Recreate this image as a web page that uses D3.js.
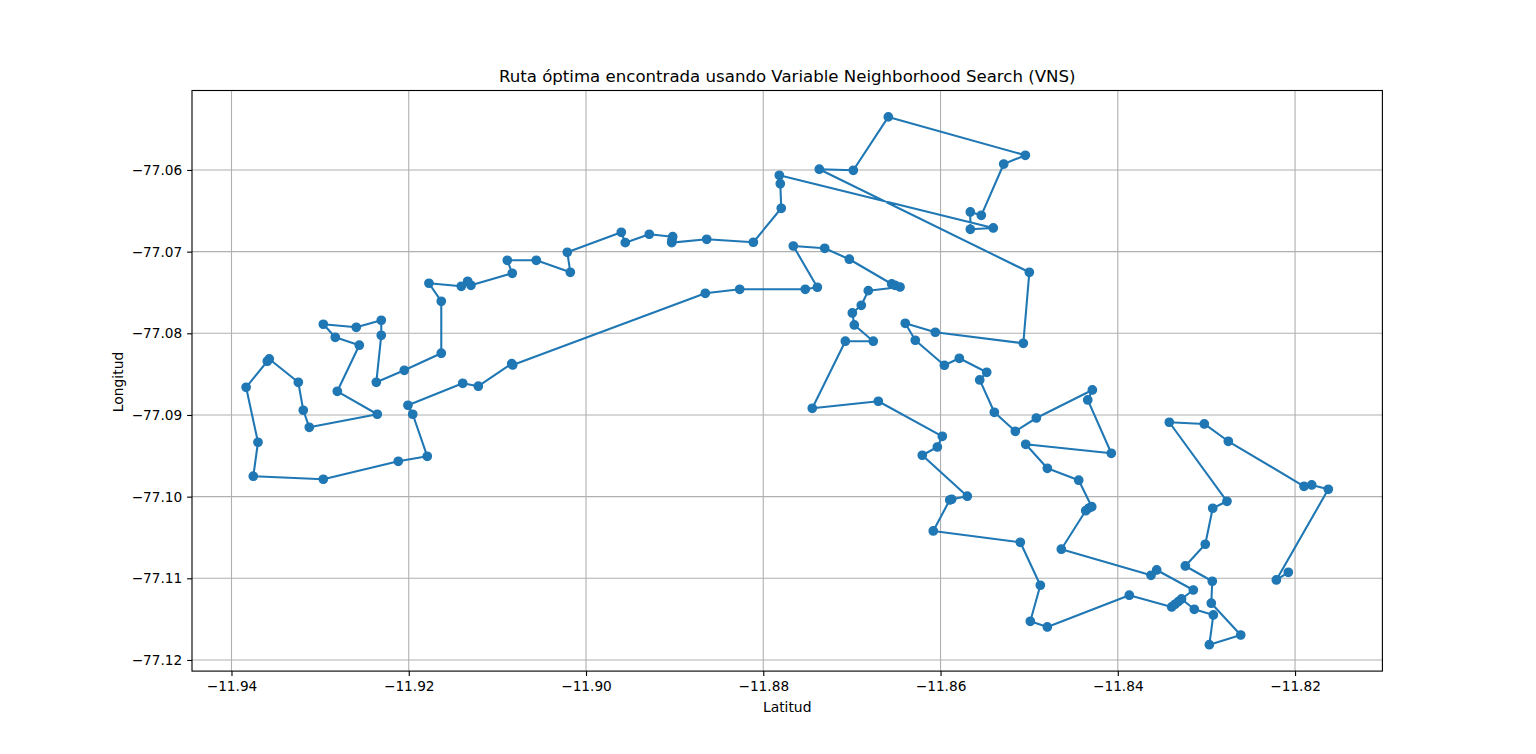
<!DOCTYPE html>
<html>
<head>
<meta charset="utf-8">
<title>Ruta VNS</title>
<script src="https://cdn.jsdelivr.net/npm/d3@7"></script>
<style>
  html, body { margin: 0; padding: 0; background: #fff; }
  svg { display: block; }
  text { font-family: "DejaVu Sans", sans-serif; fill: #000; }
</style>
</head>
<body>
<div id="vis"></div>
<script>
// order of visit along the route
var latitudes = [
  -11.82076, -11.82211, -11.81625, -11.81812, -11.81899, -11.82753, -11.83024, -11.83419,
  -11.82768, -11.82929, -11.83013, -11.83238, -11.82934, -11.82945, -11.82613, -11.82967,
  -11.82922, -11.83137, -11.83281, -11.83148, -11.83561, -11.83625, -11.84637, -11.84362,
  -11.84325, -11.84294, -11.84441, -11.84795, -11.85039, -11.84073, -11.84339, -11.84287,
  -11.84919, -11.85156, -11.85393, -11.85558, -11.85479, -11.85788, -11.85957, -11.86285,
  -11.86398, -11.86059, -11.85066, -11.84998, -11.87368, -11.86984, -11.86589, -11.85043,
  -11.85287, -11.85540, -11.85664, -11.85664, -11.85405, -11.87819, -11.87808, -11.87797,
  -11.88112, -11.88638, -11.89033, -11.89030, -11.89022, -11.89286, -11.89557, -11.89602,
  -11.90211, -11.90177, -11.90561, -11.90888, -11.90832, -11.91298, -11.91335, -11.91407,
  -11.91772, -11.91633, -11.91633, -11.92050, -11.92366, -11.92310, -11.92310, -11.92592,
  -11.92964, -11.92829, -11.92558, -11.92806, -11.92355, -11.93122, -11.93190, -11.93246,
  -11.93574, -11.93596, -11.93835, -11.93701, -11.93754, -11.92964, -11.92118, -11.91791,
  -11.91955, -11.92009, -11.91391, -11.91215, -11.90838, -11.90827, -11.88654, -11.88266,
  -11.87526, -11.87390, -11.87661, -11.87307, -11.87029, -11.86551, -11.86514, -11.86457,
  -11.86815, -11.86894, -11.86995, -11.86973, -11.86759, -11.87074, -11.87447, -11.86702,
  -11.85980, -11.86036, -11.86206, -11.85698, -11.85874, -11.85896, -11.86082, -11.85100,
  -11.84874, -11.84987, -11.84795, -11.83870, -11.83392, -11.83354, -11.83317
];
var longitudes = [
  -77.10926, -77.11020, -77.09910, -77.09857, -77.09873, -77.09322, -77.09110, -77.09089,
  -77.10057, -77.10142, -77.10583, -77.10849, -77.11036, -77.11305, -77.11694, -77.11813,
  -77.11449, -77.11379, -77.11253, -77.11143, -77.10898, -77.10963, -77.10644, -77.10172,
  -77.10139, -77.10123, -77.09799, -77.09653, -77.09359, -77.09469, -77.08816, -77.08694,
  -77.09037, -77.09200, -77.08967, -77.08571, -77.08477, -77.08306, -77.08391, -77.08085,
  -77.07877, -77.07987, -77.08122, -77.07253, -77.05991, -77.06004, -77.05350, -77.05820,
  -77.05927, -77.06555, -77.06514, -77.06726, -77.06710, -77.06065, -77.06168, -77.06469,
  -77.06885, -77.06849, -77.06890, -77.06857, -77.06817, -77.06787, -77.06890, -77.06763,
  -77.07008, -77.07253, -77.07106, -77.07106, -77.07265, -77.07412, -77.07363, -77.07424,
  -77.07387, -77.07608, -77.08244, -77.08453, -77.08600, -77.08024, -77.07840, -77.07926,
  -77.07889, -77.08049, -77.08146, -77.08710, -77.08991, -77.09151, -77.08942, -77.08600,
  -77.08314, -77.08342, -77.08661, -77.09334, -77.09750, -77.09787, -77.09567, -77.09506,
  -77.08991, -77.08881, -77.08612, -77.08648, -77.08372, -77.08388, -77.07510, -77.07461,
  -77.07461, -77.07436, -77.06931, -77.06959, -77.07093, -77.07396, -77.07412, -77.07433,
  -77.07478, -77.07657, -77.07751, -77.07898, -77.08097, -77.08097, -77.08918, -77.08832,
  -77.09261, -77.09392, -77.09493, -77.09995, -77.10032, -77.10041, -77.10420, -77.10559,
  -77.11085, -77.11526, -77.11596, -77.11207, -77.11351, -77.11318, -77.11286
];
var xTickValues = [-11.94, -11.92, -11.90, -11.88, -11.86, -11.84, -11.82];
var yTickValues = [-77.06, -77.07, -77.08, -77.09, -77.10, -77.11, -77.12];

var chartTitle = "Ruta óptima encontrada usando Variable Neighborhood Search (VNS)";
var xLabel = "Latitud";
var yLabel = "Longitud";

//Width and height
var w = 1536;
var h = 754;
var left = 192, right = 1382.4, top_ = 90.5, bottom = 671.1;
var blue = "#1f77b4";

// same 5% padding matplotlib puts around the data
function padded(values) {
  var e = d3.extent(values);
  var pad = (e[1] - e[0]) * 0.05;
  return [e[0] - pad, e[1] + pad];
}

var xScale = d3.scaleLinear().domain(padded(latitudes)).range([left, right]);
var yScale = d3.scaleLinear().domain(padded(longitudes)).range([bottom, top_]);

var svg = d3.select("#vis")
  .append("svg")
  .attr("width", w)
  .attr("height", h);

function minus(fmt) {
  return function(d) { return fmt(d).replace("-", "\u2212"); };
}

//Grid lines
svg.append("g").selectAll("line")
  .data(xTickValues)
  .enter()
  .append("line")
  .attr("x1", function(d) { return xScale(d); })
  .attr("x2", function(d) { return xScale(d); })
  .attr("y1", top_)
  .attr("y2", bottom)
  .attr("stroke", "#b0b0b0")
  .attr("stroke-width", 1.11);

svg.append("g").selectAll("line")
  .data(yTickValues)
  .enter()
  .append("line")
  .attr("x1", left)
  .attr("x2", right)
  .attr("y1", function(d) { return yScale(d); })
  .attr("y2", function(d) { return yScale(d); })
  .attr("stroke", "#b0b0b0")
  .attr("stroke-width", 1.11);

//Route
var line = d3.line()
  .x(function(d) { return xScale(d); })
  .y(function(d, i) { return yScale(longitudes[i]); });

svg.append("path")
  .attr("d", line(latitudes))
  .attr("fill", "none")
  .attr("stroke", blue)
  .attr("stroke-width", 2.08)
  .attr("stroke-linejoin", "round");

svg.append("g").selectAll("circle")
  .data(latitudes)
  .enter()
  .append("circle")
  .attr("cx", function(d) { return xScale(d); })
  .attr("cy", function(d, i) { return yScale(longitudes[i]); })
  .attr("r", 4.17)
  .attr("fill", blue)
  .attr("stroke", blue)
  .attr("stroke-width", 1.39);

//Axes
var xAxis = d3.axisBottom(xScale)
  .tickValues(xTickValues)
  .tickSize(4.86)
  .tickPadding(4.86)
  .tickFormat(minus(d3.format(".2f")));

var yAxis = d3.axisLeft(yScale)
  .tickValues(yTickValues)
  .tickSize(4.86)
  .tickPadding(4.86)
  .tickFormat(minus(d3.format(".2f")));

var gx = svg.append("g").attr("transform", "translate(0," + bottom + ")").call(xAxis);
var gy = svg.append("g").attr("transform", "translate(" + left + ",0)").call(yAxis);

[gx, gy].forEach(function(g) {
  g.select(".domain").remove();
  g.selectAll("line").attr("stroke", "#000").attr("stroke-width", 1.11);
  g.selectAll("text").attr("font-size", "13.7px").attr("font-family", "DejaVu Sans").attr("fill", "#000");
});

//Frame
svg.append("rect")
  .attr("x", left)
  .attr("y", top_)
  .attr("width", right - left)
  .attr("height", bottom - top_)
  .attr("fill", "none")
  .attr("stroke", "#000")
  .attr("stroke-width", 1.11);

//Labels
svg.append("text")
  .text(chartTitle)
  .attr("x", (left + right) / 2)
  .attr("y", 82)
  .attr("text-anchor", "middle")
  .attr("font-size", "16.6px");

svg.append("text")
  .text(xLabel)
  .attr("x", (left + right) / 2)
  .attr("y", 712)
  .attr("text-anchor", "middle")
  .attr("font-size", "13.89px");

svg.append("text")
  .text(yLabel)
  .attr("transform", "translate(123,382) rotate(-90)")
  .attr("text-anchor", "middle")
  .attr("font-size", "13.89px");
</script>
</body>
</html>
